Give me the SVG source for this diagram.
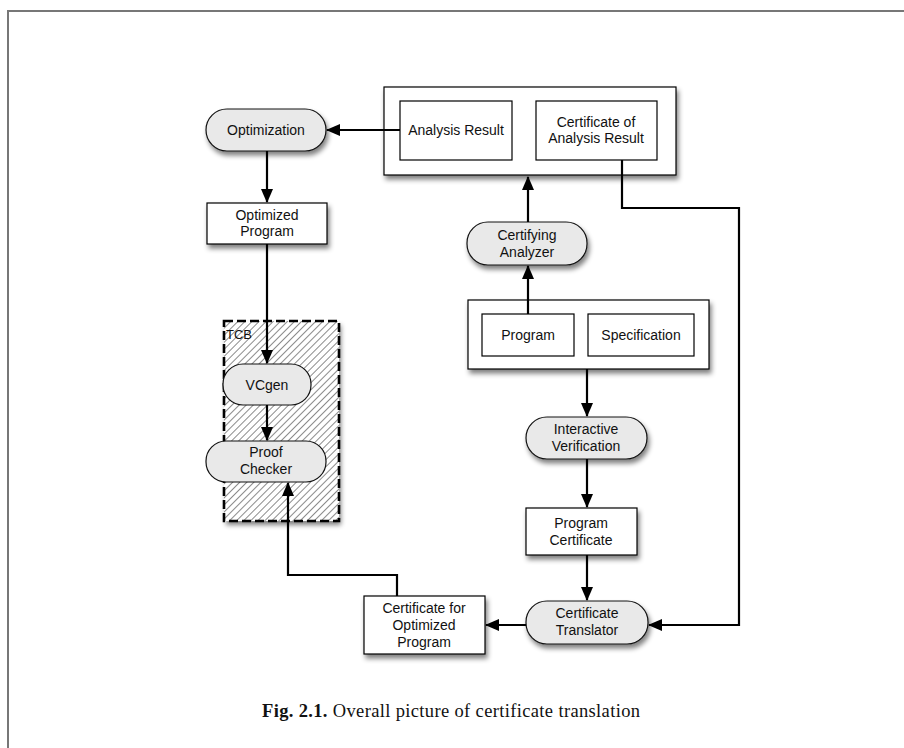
<svg xmlns="http://www.w3.org/2000/svg" width="904" height="748" viewBox="0 0 904 748">
  <defs>
    <style>
      .box { fill: #ffffff; stroke: #000; stroke-width: 1.2; }
      .pill { fill: #e9e9e9; stroke: #111; stroke-width: 1.2; }
      .inner { fill: #ffffff; stroke: #000; stroke-width: 1.2; }
      .lbl { font-family: "Liberation Sans", Arial, sans-serif; font-size: 14px; fill: #111; text-anchor: middle; }
      .edge { fill: none; stroke: #000; stroke-width: 2.2; }
      .shadowed { filter: url(#shadow); }
    </style>
    <filter id="shadow" x="-20%" y="-20%" width="150%" height="160%">
      <feGaussianBlur in="SourceAlpha" stdDeviation="2.6"/>
      <feOffset dx="2" dy="4" result="b"/>
      <feComponentTransfer><feFuncA type="linear" slope="0.5"/></feComponentTransfer>
      <feMerge><feMergeNode/><feMergeNode in="SourceGraphic"/></feMerge>
    </filter>
    <pattern id="hatch" width="5" height="5" patternUnits="userSpaceOnUse" patternTransform="rotate(45)">
      <rect width="5" height="5" fill="#ffffff"/>
      <line x1="0" y1="0" x2="0" y2="5" stroke="#2a2a2a" stroke-width="1.1"/>
    </pattern>
    <marker id="arrow" markerWidth="14" markerHeight="12" refX="13" refY="6" orient="auto" markerUnits="userSpaceOnUse">
      <path d="M0,0 L14,6 L0,12 Z" fill="#000"/>
    </marker>
  </defs>

  <!-- page frame -->
  <path d="M8,748 V11 H904" fill="none" stroke="#777" stroke-width="2"/>

  <!-- trusted computing base -->
  <g id="tcb">
    <rect x="224" y="321" width="115" height="200" fill="url(#hatch)" class="shadowed"/>
    <rect x="224" y="321" width="115" height="200" fill="none" stroke="#000" stroke-width="2.6" stroke-dasharray="9,4"/>
    <text x="226" y="339" font-family="Liberation Sans, Arial, sans-serif" font-size="13" fill="#111">TCB</text>
  </g>

  <g id="analysis-output">
    <rect x="384" y="87" width="292" height="88" class="box shadowed"/>
    <g id="analysis-result">
      <rect x="400" y="101" width="112" height="59" class="inner"/>
      <text x="456" y="135" class="lbl">Analysis Result</text>
    </g>
    <g id="analysis-certificate">
      <rect x="536" y="101" width="121" height="59" class="inner"/>
      <text x="596" y="127" class="lbl">Certificate of</text>
      <text x="596" y="143" class="lbl">Analysis Result</text>
    </g>
  </g>

  <g id="optimization">
    <rect x="206" y="109" width="120" height="42" rx="21" class="pill shadowed"/>
    <text x="266" y="135" class="lbl">Optimization</text>
  </g>

  <g id="optimized-program">
    <rect x="207" y="203" width="120" height="41" class="box shadowed"/>
    <text x="267" y="220" class="lbl">Optimized</text>
    <text x="267" y="236" class="lbl">Program</text>
  </g>

  <g id="vcgen">
    <rect x="223" y="364" width="88" height="41" rx="20" class="pill"/>
    <text x="267" y="390" class="lbl">VCgen</text>
  </g>

  <g id="proof-checker">
    <rect x="206" y="441" width="120" height="41" rx="20" class="pill"/>
    <text x="266" y="457" class="lbl">Proof</text>
    <text x="266" y="474" class="lbl">Checker</text>
  </g>

  <g id="certifying-analyzer">
    <rect x="467" y="222" width="120" height="43" rx="21" class="pill shadowed"/>
    <text x="527" y="240" class="lbl">Certifying</text>
    <text x="527" y="257" class="lbl">Analyzer</text>
  </g>

  <g id="program-spec">
    <rect x="468" y="300" width="241" height="69" class="box shadowed"/>
    <g id="program">
      <rect x="482" y="314" width="92" height="42" class="inner"/>
      <text x="528" y="340" class="lbl">Program</text>
    </g>
    <g id="specification">
      <rect x="588" y="314" width="106" height="42" class="inner"/>
      <text x="641" y="340" class="lbl">Specification</text>
    </g>
  </g>

  <g id="interactive-verification">
    <rect x="526" y="417" width="121" height="42" rx="21" class="pill shadowed"/>
    <text x="586" y="434" class="lbl">Interactive</text>
    <text x="586" y="451" class="lbl">Verification</text>
  </g>

  <g id="program-certificate">
    <rect x="526" y="508" width="111" height="47" class="box shadowed"/>
    <text x="581" y="528" class="lbl">Program</text>
    <text x="581" y="545" class="lbl">Certificate</text>
  </g>

  <g id="certificate-translator">
    <rect x="526" y="601" width="122" height="43" rx="21" class="pill shadowed"/>
    <text x="587" y="618" class="lbl">Certificate</text>
    <text x="587" y="635" class="lbl">Translator</text>
  </g>

  <g id="optimized-certificate">
    <rect x="364" y="596" width="121" height="58" class="box shadowed"/>
    <text x="424" y="613" class="lbl">Certificate for</text>
    <text x="424" y="630" class="lbl">Optimized</text>
    <text x="424" y="647" class="lbl">Program</text>
  </g>

  <g id="connectors">
    <path d="M400,130 H327" class="edge" marker-end="url(#arrow)"/>
    <path d="M267,151 V202" class="edge" marker-end="url(#arrow)"/>
    <path d="M267,244 V363" class="edge" marker-end="url(#arrow)"/>
    <path d="M267,405 V440" class="edge" marker-end="url(#arrow)"/>
    <path d="M397,596 V575 H288 V483" class="edge" marker-end="url(#arrow)"/>
    <path d="M526,625 H486" class="edge" marker-end="url(#arrow)"/>
    <path d="M622,160 V208 H739 V625 H649" class="edge" marker-end="url(#arrow)"/>
    <path d="M587,555 V600" class="edge" marker-end="url(#arrow)"/>
    <path d="M587,459 V507" class="edge" marker-end="url(#arrow)"/>
    <path d="M587,369 V416" class="edge" marker-end="url(#arrow)"/>
    <path d="M528,314 V266" class="edge" marker-end="url(#arrow)"/>
    <path d="M528,222 V177" class="edge" marker-end="url(#arrow)"/>
  </g>

  <text x="262" y="717" font-family="Liberation Serif, 'Times New Roman', serif" font-size="18.5" fill="#111" textLength="378" lengthAdjust="spacing"><tspan font-weight="bold">Fig. 2.1.</tspan> Overall picture of certificate translation</text>
</svg>
